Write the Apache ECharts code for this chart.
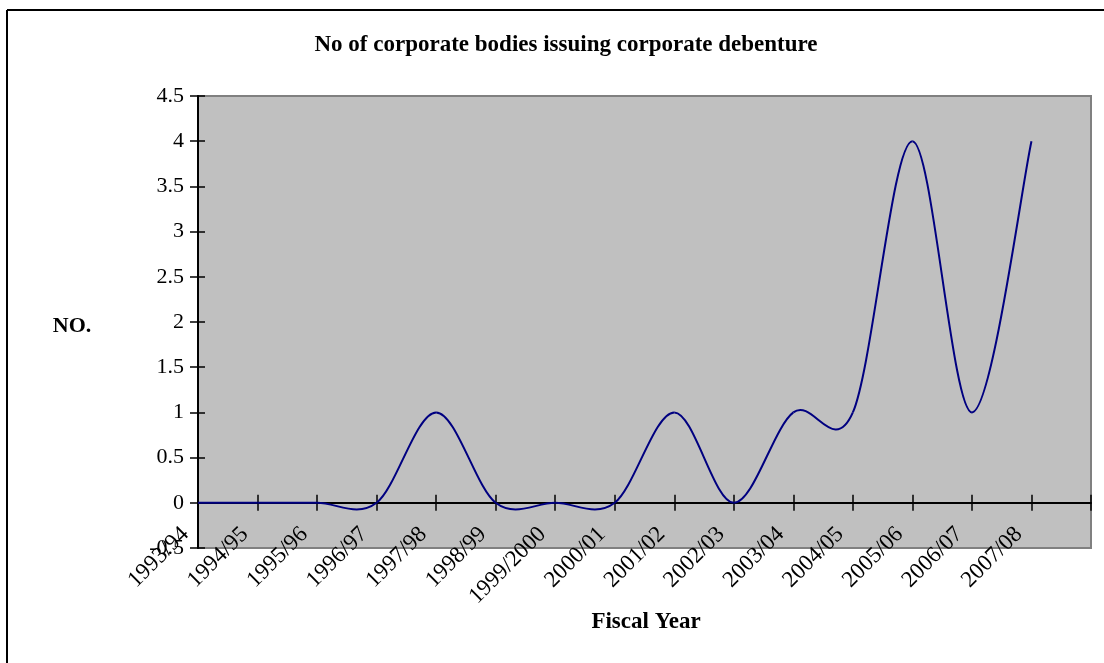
<!DOCTYPE html>
<html>
<head>
<meta charset="utf-8">
<script src="https://cdn.jsdelivr.net/npm/echarts@6/dist/echarts.min.js"></script>
<style>
  html, body { margin: 0; padding: 0; background: #fff; }
  #chart { width: 1104px; height: 663px; }
</style>
</head>
<body>
<div id="chart"></div>
<script>
const years = [
  "1993/94", "1994/95", "1995/96", "1996/97", "1997/98", "1998/99", "1999/2000",
  "2000/01", "2001/02", "2002/03", "2003/04", "2004/05", "2005/06", "2006/07", "2007/08", ""
];
const bodies = [0, 0, 0, 0, 1, 0, 0, 0, 1, 0, 1, 1, 4, 1, 4];
const yTicks = { min: -0.5, max: 4.5, step: 0.5 };

const font = "Liberation Serif";
const chart = echarts.init(document.getElementById("chart"));

// plot box
const plot = { left: 198, top: 96, width: 893, height: 452 };

// excel style smoothed line: cubic pieces through every point,
// control points at +-1/6 of the neighbour difference (catmull-rom)
function renderSmoothLine(params, api) {
  if (params.dataIndex !== 0) return null;
  const pts = bodies.map((v, i) => api.coord([i, v]));
  const n = pts.length;
  const tan = pts.map((p, i) => {
    const a = pts[Math.max(i - 1, 0)];
    const b = pts[Math.min(i + 1, n - 1)];
    return [(b[0] - a[0]) / 2, (b[1] - a[1]) / 2];
  });
  const children = [];
  for (let i = 0; i < n - 1; i++) {
    const p0 = pts[i], p1 = pts[i + 1];
    children.push({
      type: "bezierCurve",
      shape: {
        x1: p0[0], y1: p0[1],
        cpx1: p0[0] + tan[i][0] / 3, cpy1: p0[1] + tan[i][1] / 3,
        cpx2: p1[0] - tan[i + 1][0] / 3, cpy2: p1[1] - tan[i + 1][1] / 3,
        x2: p1[0], y2: p1[1],
      },
      style: { stroke: "#000080", lineWidth: 2, fill: null },
    });
  }
  return { type: "group", children };
}

const option = {
  animation: false,
  backgroundColor: "#fff",
  grid: [
    {
      ...plot,
      containLabel: false,
      outerBoundsMode: "none",
      show: true,
      backgroundColor: "#C0C0C0",
      borderColor: "#808080",
      borderWidth: 2,
    },
    // same box again, only for the inner half of the crossing ticks
    { ...plot, containLabel: false, outerBoundsMode: "none", show: false },
  ],
  graphic: [
    { type: "line", shape: { x1: 7, y1: 10, x2: 1104, y2: 10 }, style: { stroke: "#000", lineWidth: 2 } },
    { type: "line", shape: { x1: 7, y1: 10, x2: 7, y2: 663 }, style: { stroke: "#000", lineWidth: 2 } },
    {
      type: "text", x: 566, y: 45,
      style: {
        text: "No of corporate bodies issuing corporate debenture",
        font: "bold 23px " + font, fill: "#000", align: "center", verticalAlign: "middle",
      },
    },
    {
      type: "text", x: 72, y: 326,
      style: { text: "NO.", font: "bold 22px " + font, fill: "#000", align: "center", verticalAlign: "middle" },
    },
    {
      type: "text", x: 646, y: 622,
      style: { text: "Fiscal Year", font: "bold 23px " + font, fill: "#000", align: "center", verticalAlign: "middle" },
    },
  ],
  xAxis: [
    {
      type: "category",
      gridIndex: 0,
      data: years,
      boundaryGap: false,
      axisLine: { onZero: true, lineStyle: { color: "#000", width: 2 } },
      axisTick: { show: true, interval: 0, length: 8, lineStyle: { color: "#000", width: 1.5 } },
      axisLabel: {
        interval: 0,
        rotate: 45,
        margin: -30,
        padding: [0, 18, 0, 0],
        hideOverlap: false,
        color: "#000",
        fontFamily: font,
        fontSize: 23,
      },
      splitLine: { show: false },
    },
    {
      type: "category",
      gridIndex: 1,
      data: years,
      boundaryGap: false,
      axisLine: { show: false, onZero: true },
      axisTick: { show: true, inside: true, interval: 0, length: 8, lineStyle: { color: "#000", width: 1.5 } },
      axisLabel: { show: false },
      splitLine: { show: false },
    },
  ],
  yAxis: [
    {
      type: "value",
      gridIndex: 0,
      min: yTicks.min,
      max: yTicks.max,
      interval: yTicks.step,
      axisLine: { show: true, onZero: false, lineStyle: { color: "#000", width: 2 } },
      axisTick: { show: true, length: 8, lineStyle: { color: "#000", width: 1.5 } },
      axisLabel: {
        margin: 14,
        showMinLabel: true,
        showMaxLabel: true,
        color: "#000",
        fontFamily: font,
        fontSize: 22,
      },
      splitLine: { show: false },
    },
    {
      type: "value",
      gridIndex: 1,
      min: yTicks.min,
      max: yTicks.max,
      interval: yTicks.step,
      axisLine: { show: false, onZero: false },
      axisTick: { show: true, inside: true, length: 7, lineStyle: { color: "#000", width: 1.5 } },
      axisLabel: { show: false },
      splitLine: { show: false },
    },
  ],
  series: [
    {
      type: "custom",
      xAxisIndex: 0,
      yAxisIndex: 0,
      data: bodies.map((v, i) => [i, v]),
      encode: { x: 0, y: 1 },
      renderItem: renderSmoothLine,
      clip: false,
      silent: true,
      z: 5,
    },
  ],
};

chart.setOption(option);
</script>
</body>
</html>
